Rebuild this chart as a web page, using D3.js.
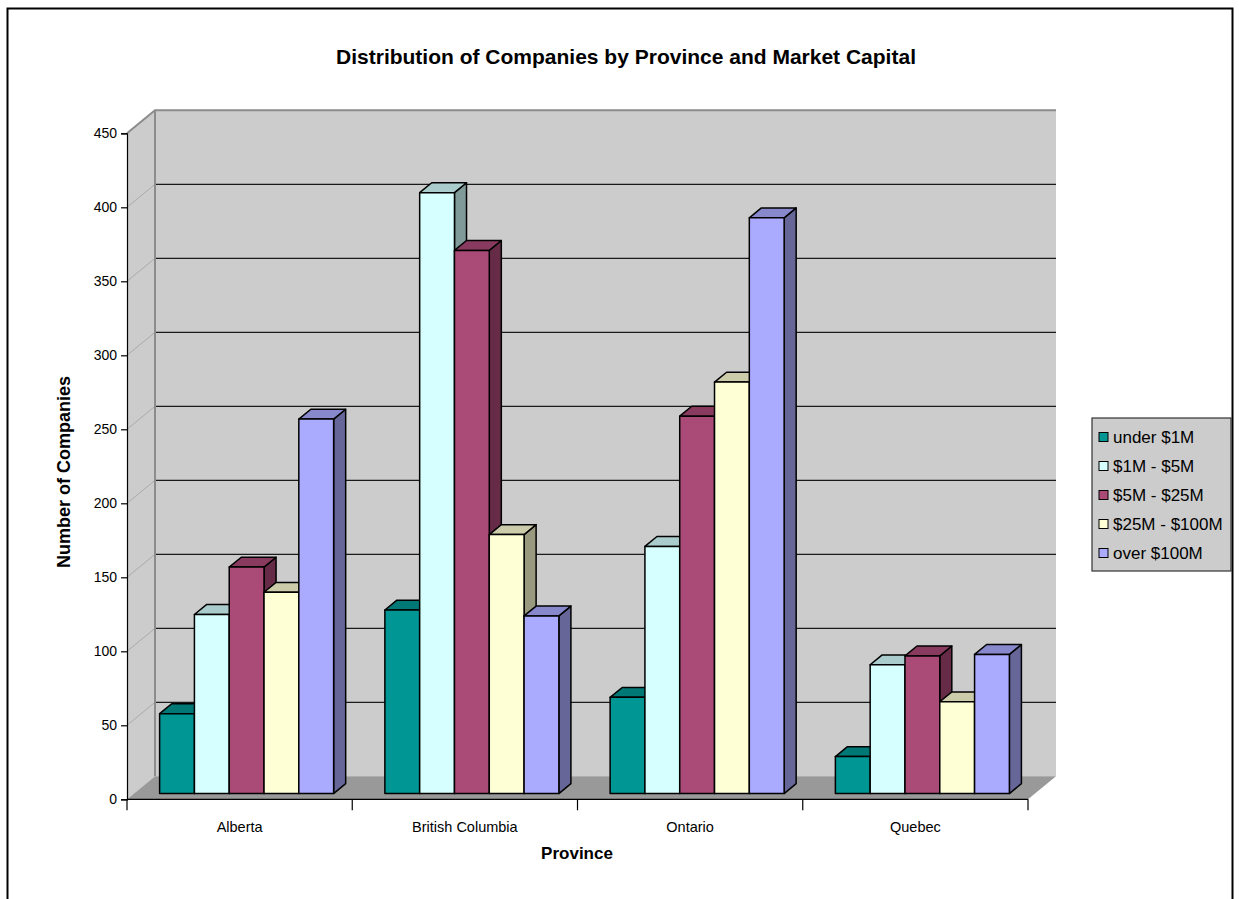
<!DOCTYPE html>
<html>
<head>
<meta charset="utf-8">
<script src="https://cdn.jsdelivr.net/npm/d3@7"></script>
<style>
  html, body { margin: 0; padding: 0; background: #fff; }
  svg { display: block; }
  text { font-family: "Liberation Sans", Arial, sans-serif; fill: #000; }
</style>
</head>
<body>
<svg id="chart" width="1239" height="899"></svg>
<script>
// Companies per province, split by market capitalisation band
const categories = ["Alberta", "British Columbia", "Ontario", "Quebec"];
const seriesNames = ["under $1M", "$1M - $5M", "$5M - $25M", "$25M - $100M", "over $100M"];
const under1M   = [54, 124, 65, 25];
const m1to5M    = [121, 406, 167, 87];
const m5to25M   = [153, 367, 255, 93];
const m25to100M = [136, 175, 278, 62];
const over100M  = [253, 120, 389, 94];
const yTickValues = [0, 50, 100, 150, 200, 250, 300, 350, 400, 450];
const seriesColors = ["#009694", "#d6ffff", "#aa4a77", "#ffffd6", "#aaaaff"];

const seriesValues = [under1M, m1to5M, m5to25M, m25to100M, over100M];

const svg = d3.select("#chart");

// outer chart frame
svg.append("rect")
  .attr("x", 7.5).attr("y", 8.5).attr("width", 1225).attr("height", 900)
  .attr("fill", "#fff").attr("stroke", "#000").attr("stroke-width", 2);

// front plane of the plot and the oblique depth offset
const left = 127, right = 1028;
const y = d3.scaleLinear().domain([0, 450]).range([799.3, 133.3]);
const DX = 28, DY = -23;          // full depth of the 3D box
const f0 = 0.25, f1 = 0.68;       // depth band occupied by the bars

const x0 = d3.scaleBand().domain(categories).range([left, right]);
const groupW = 174;
const x1 = d3.scaleBand().domain(seriesNames)
  .range([(x0.bandwidth() - groupW) / 2, (x0.bandwidth() + groupW) / 2]);

const wallFill = "#cccccc", floorFill = "#999999", wallEdge = "#8c8c8c";
const y0 = y(0), yTop = y(450);

// left side wall
svg.append("path")
  .attr("d", `M${left},${y0} L${left},${yTop} L${left + DX},${yTop + DY} L${left + DX},${y0 + DY} Z`)
  .attr("fill", wallFill).attr("stroke", "none");
// back wall
svg.append("rect")
  .attr("x", left + DX).attr("y", yTop + DY)
  .attr("width", right - left).attr("height", y0 - yTop)
  .attr("fill", wallFill);
// floor
svg.append("path")
  .attr("d", `M${left},${y0} L${right},${y0} L${right + DX},${y0 + DY} L${left + DX},${y0 + DY} Z`)
  .attr("fill", floorFill);

// gridlines: dark on the back wall, faint across the side wall
const gridVals = yTickValues.filter(v => v > 0 && v < 450);
svg.append("g").selectAll("line").data(gridVals).join("line")
  .attr("x1", left + DX).attr("x2", right + DX)
  .attr("y1", d => y(d) + DY).attr("y2", d => y(d) + DY)
  .attr("stroke", "#1a1a1a").attr("stroke-width", 1.2);
svg.append("g").selectAll("line").data(gridVals).join("line")
  .attr("x1", left).attr("x2", left + DX)
  .attr("y1", d => y(d)).attr("y2", d => y(d) + DY)
  .attr("stroke", "#aaaaaa").attr("stroke-width", 1);

// wall edges
svg.append("path")
  .attr("d", `M${left},${yTop} L${left + DX},${yTop + DY} L${right + DX},${yTop + DY}`)
  .attr("fill", "none").attr("stroke", wallEdge).attr("stroke-width", 2);
svg.append("line")
  .attr("x1", left + DX).attr("x2", left + DX)
  .attr("y1", yTop + DY).attr("y2", y0 + DY)
  .attr("stroke", wallEdge).attr("stroke-width", 2);

// bars drawn left to right so each front face covers the neighbour's side
const shade = (c, k) => { const r = d3.rgb(c); return d3.rgb(r.r * k, r.g * k, r.b * k).toString(); };
const bw = x1.bandwidth();
const bdx = DX * (f1 - f0), bdy = DY * (f1 - f0);
const barG = svg.append("g").attr("stroke", "#000").attr("stroke-width", 1.5).attr("stroke-linejoin", "round");
const bars = [];
categories.forEach((cat, ci) => {
  seriesNames.forEach((s, si) => {
    bars.push({ cat, s, si, v: seriesValues[si][ci] });
  });
});
bars.forEach(b => {
  const xl = x0(b.cat) + x1(b.s) + DX * f0;
  const xr = xl + bw;
  const yt = y(b.v) + DY * f0;
  const yb = y(0) + DY * f0;
  const col = seriesColors[b.si];
  const g = barG.append("g");
  g.append("path")
    .attr("d", `M${xr},${yt} L${xr + bdx},${yt + bdy} L${xr + bdx},${yb + bdy} L${xr},${yb} Z`)
    .attr("fill", shade(col, 0.6));
  g.append("path")
    .attr("d", `M${xl},${yt} L${xr},${yt} L${xr + bdx},${yt + bdy} L${xl + bdx},${yt + bdy} Z`)
    .attr("fill", shade(col, 0.8));
  g.append("rect")
    .attr("x", xl).attr("y", yt).attr("width", bw).attr("height", yb - yt)
    .attr("fill", col);
});

// value axis
const yAxis = d3.axisLeft(y).tickValues(yTickValues).tickSize(6).tickPadding(4);
const gy = svg.append("g").attr("transform", `translate(${left},0)`).call(yAxis);
gy.select(".domain").attr("stroke", "#000").attr("stroke-width", 1.2);
gy.selectAll(".tick line").attr("stroke", "#000").attr("stroke-width", 1.2);
gy.selectAll(".tick text").attr("font-size", 14).attr("font-family", "Liberation Sans, Arial, sans-serif");

// category axis
const gx = svg.append("g").attr("transform", `translate(0,${y0})`);
gx.append("line").attr("x1", left).attr("x2", right).attr("y1", 0).attr("y2", 0)
  .attr("stroke", "#000").attr("stroke-width", 1.2);
const boundaries = categories.map(c => x0(c)).concat([right]);
gx.selectAll("line.tk").data(boundaries).join("line").attr("class", "tk")
  .attr("x1", d => d).attr("x2", d => d).attr("y1", 0).attr("y2", 11)
  .attr("stroke", "#000").attr("stroke-width", 1.2);
gx.selectAll("text").data(categories).join("text")
  .attr("x", d => x0(d) + x0.bandwidth() / 2).attr("y", 33)
  .attr("text-anchor", "middle").attr("font-size", 14.5)
  .text(d => d);

// titles
svg.append("text").attr("x", 626).attr("y", 64).attr("text-anchor", "middle")
  .attr("font-size", 21).attr("font-weight", "bold")
  .text("Distribution of Companies by Province and Market Capital");
svg.append("text").attr("x", 577).attr("y", 859).attr("text-anchor", "middle")
  .attr("font-size", 17).attr("font-weight", "bold").text("Province");
svg.append("text").attr("transform", `translate(70,472) rotate(-90)`)
  .attr("text-anchor", "middle").attr("font-size", 18).attr("font-weight", "bold")
  .text("Number of Companies");

// legend
const lg = svg.append("g").attr("transform", "translate(1092,418)");
lg.append("rect").attr("width", 139).attr("height", 153)
  .attr("fill", "#cccccc").attr("stroke", "#333").attr("stroke-width", 1.2);
const items = lg.selectAll("g").data(seriesNames).join("g")
  .attr("transform", (d, i) => `translate(0,${19 + i * 29})`);
items.append("rect").attr("x", 7).attr("y", -4.5).attr("width", 9).attr("height", 9)
  .attr("fill", (d, i) => seriesColors[i]).attr("stroke", "#000").attr("stroke-width", 1);
items.append("text").attr("x", 21).attr("y", 6).attr("font-size", 17).text(d => d);
</script>
</body>
</html>
